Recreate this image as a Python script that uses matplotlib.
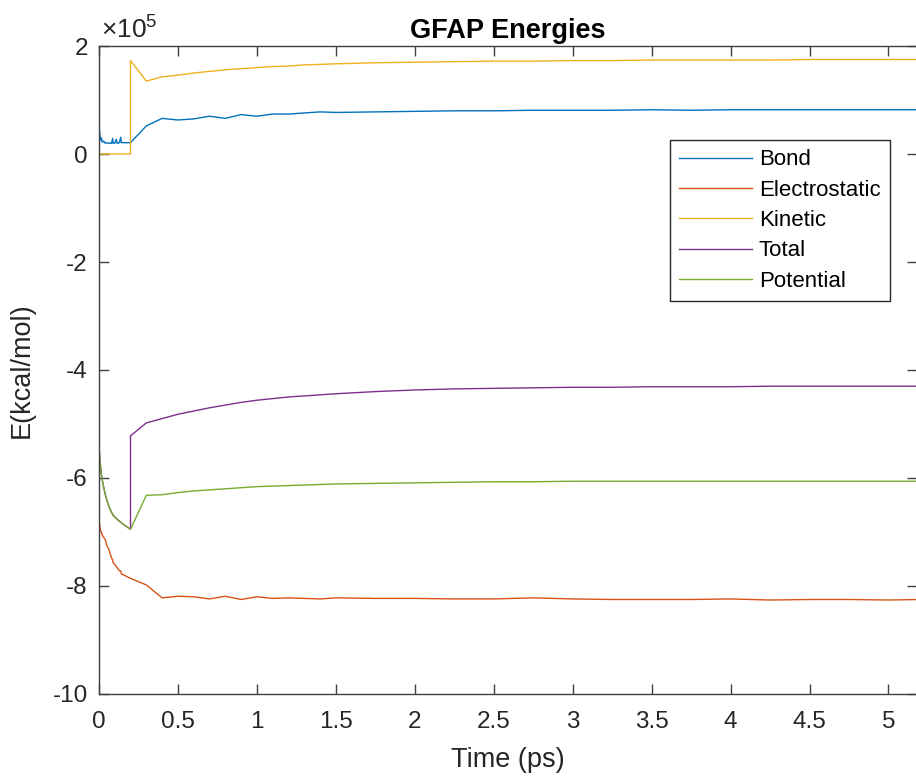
import matplotlib
matplotlib.use('Agg')
import matplotlib.pyplot as plt
from matplotlib.ticker import FuncFormatter

plt.rcParams['font.family'] = ['Liberation Sans', 'DejaVu Sans']
plt.rcParams['mathtext.fontset'] = 'custom'
plt.rcParams['mathtext.rm'] = 'Liberation Sans'
plt.rcParams['mathtext.default'] = 'regular'
plt.rcParams['axes.unicode_minus'] = False

# Время (пс): минимизация до 0.2, далее молекулярная динамика
time_ps = [0.0, 0.005, 0.01, 0.015, 0.02, 0.03, 0.04, 0.05, 0.06, 0.07, 0.08, 0.087,
           0.09, 0.1, 0.11, 0.115, 0.12, 0.13, 0.138, 0.142, 0.15, 0.16, 0.18, 0.2,
           0.2, 0.3, 0.4, 0.5, 0.6, 0.7, 0.8, 0.9, 1.0, 1.1, 1.2, 1.3, 1.4, 1.5,
           1.75, 2.0, 2.25, 2.5, 2.75, 3.0, 3.25, 3.5, 3.75, 4.0, 4.25, 4.5, 4.75, 5.0, 5.2]

# Энергии в единицах 1e5 kcal/mol
bond = [0.57, 0.38, 0.26, 0.30, 0.22, 0.24, 0.20, 0.21, 0.20, 0.20, 0.20, 0.29,
        0.20, 0.20, 0.27, 0.20, 0.20, 0.21, 0.31, 0.21, 0.21, 0.21, 0.21, 0.21,
        0.21, 0.52, 0.66, 0.63, 0.65, 0.70, 0.66, 0.73, 0.70, 0.74, 0.74, 0.76, 0.78, 0.77,
        0.78, 0.79, 0.80, 0.80, 0.81, 0.81, 0.81, 0.82, 0.81, 0.82, 0.82, 0.82, 0.82, 0.82, 0.82]

electrostatic = [-6.72, -6.88, -6.97, -7.00, -7.05, -7.10, -7.14, -7.25, -7.30, -7.39, -7.48, -7.52,
                 -7.57, -7.60, -7.64, -7.66, -7.68, -7.72, -7.72, -7.78, -7.79, -7.80, -7.83, -7.86,
                 -7.86, -7.98, -8.22, -8.19, -8.20, -8.24, -8.19, -8.25, -8.20, -8.23, -8.22, -8.23, -8.24, -8.22,
                 -8.23, -8.23, -8.24, -8.24, -8.22, -8.24, -8.25, -8.25, -8.25, -8.24, -8.26, -8.25, -8.25, -8.26, -8.25]

kinetic = [0.0] * 24 + [
    1.73, 1.35, 1.43, 1.46, 1.50, 1.53, 1.56, 1.58, 1.60, 1.62, 1.63, 1.65, 1.66, 1.67,
    1.69, 1.70, 1.71, 1.72, 1.72, 1.73, 1.73, 1.74, 1.74, 1.74, 1.74, 1.75, 1.75, 1.75, 1.75]

total = [-5.39, -5.62, -5.78, -5.92, -6.02, -6.17, -6.30, -6.41, -6.50, -6.57, -6.64, -6.67,
         -6.69, -6.72, -6.75, -6.76, -6.78, -6.80, -6.82, -6.83, -6.85, -6.87, -6.91, -6.95,
         -5.22, -4.98, -4.90, -4.82, -4.76, -4.70, -4.65, -4.60, -4.56, -4.53, -4.50, -4.48, -4.46, -4.44,
         -4.40, -4.37, -4.35, -4.34, -4.33, -4.32, -4.32, -4.31, -4.31, -4.31, -4.30, -4.30, -4.30, -4.30, -4.30]

potential = [-5.39, -5.62, -5.78, -5.92, -6.02, -6.17, -6.30, -6.41, -6.50, -6.57, -6.64, -6.67,
             -6.69, -6.72, -6.75, -6.76, -6.78, -6.80, -6.82, -6.83, -6.85, -6.87, -6.91, -6.95,
             -6.95, -6.32, -6.31, -6.27, -6.24, -6.22, -6.20, -6.18, -6.16, -6.15, -6.14, -6.13, -6.12, -6.11,
             -6.10, -6.09, -6.08, -6.07, -6.07, -6.06, -6.06, -6.06, -6.06, -6.06, -6.06, -6.06, -6.06, -6.06, -6.06]

series = [
    ('Bond', bond, (0.0, 0.447, 0.741)),
    ('Electrostatic', electrostatic, (0.85, 0.325, 0.098)),
    ('Kinetic', kinetic, (0.929, 0.694, 0.125)),
    ('Total', total, (0.494, 0.184, 0.556)),
    ('Potential', potential, (0.466, 0.674, 0.188)),
]

fig = plt.figure(figsize=(9.16, 7.76), dpi=100)
ax = fig.add_axes([0.108, 0.1057, 0.893, 0.835])

for name, values, color in series:
    ax.plot(time_ps, [v * 1e5 for v in values], color=color, lw=1.0, label=name)

ax.set_xlim(0, 5.18)
ax.set_ylim(-10e5, 2e5)
ax.set_xticks([0, 0.5, 1, 1.5, 2, 2.5, 3, 3.5, 4, 4.5, 5])
ax.set_xticklabels(['0', '0.5', '1', '1.5', '2', '2.5', '3', '3.5', '4', '4.5', '5'])
ax.set_yticks([2e5, 0, -2e5, -4e5, -6e5, -8e5, -10e5])
ax.yaxis.set_major_formatter(FuncFormatter(lambda v, pos: '%g' % round(v / 1e5)))

# множитель оси Y
ax.text(0.003, 1.004, r'$\times10^{5}$', transform=ax.transAxes, fontsize=19,
        color='#262626', ha='left', va='bottom')

ax.tick_params(direction='in', length=7, width=1.0, colors='#404040',
               labelcolor='#262626', labelsize=17.5, top=True, right=True)
ax.tick_params(axis='x', pad=12)
ax.tick_params(axis='y', pad=8)
for sp in ax.spines.values():
    sp.set_color('#404040')
    sp.set_linewidth(1.0)

ax.set_title('GFAP Energies', fontsize=19.5, fontweight='bold', color='black', pad=6)
ax.set_xlabel('Time (ps)', fontsize=19.5, color='#262626', labelpad=10)
ax.set_ylabel('E(kcal/mol)', fontsize=19.5, color='#262626', labelpad=13)

leg = ax.legend(loc='upper right', bbox_to_anchor=(0.967, 0.855), fontsize=16,
                fancybox=False, edgecolor='#262626', framealpha=1,
                handlelength=3.3, handletextpad=0.3, labelspacing=0.42,
                borderpad=0.42, borderaxespad=0)
leg.get_frame().set_linewidth(1.0)

fig.savefig('out.png', dpi=100)
